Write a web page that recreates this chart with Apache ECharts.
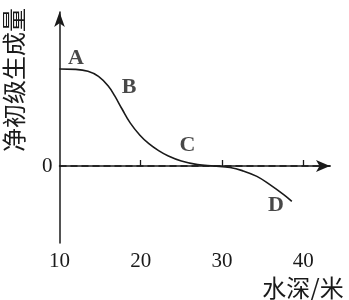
<!DOCTYPE html>
<html>
<head>
<meta charset="utf-8">
<script src="https://cdn.jsdelivr.net/npm/echarts@6/dist/echarts.min.js"></script>
<style>html,body{margin:0;padding:0;background:#fff;}#c{width:349px;height:300px;}</style>
</head>
<body>
<div id="c"></div>
<script>
// water depth (m) and net primary production (relative units)
var depth = [10, 12, 13.5, 14.8, 16.0, 16.8, 17.7, 18.7, 19.9, 21.0, 22.2, 23.4, 25.0, 27.0, 29.0, 31.0, 32.5, 34.3, 35.9, 37.6, 38.6];
var npp   = [1.26, 1.255, 1.23, 1.165, 1.04, 0.91, 0.74, 0.56, 0.40, 0.29, 0.20, 0.13, 0.065, 0.018, 0.0, -0.02, -0.06, -0.135, -0.243, -0.373, -0.46];
var xTicks = [10, 20, 30, 40];
var yTicks = [0];
var pointNames = ['A', 'B', 'C', 'D'];
var pointX = [12.03, 18.56, 25.76, 36.66];
var pointY = [1.40, 1.023, 0.264, -0.509];
var zeroLineX = [10, 43.5];

var chart = echarts.init(document.getElementById('c'));
var serif = '"Liberation Serif", "DejaVu Serif", serif';
var cjk = '"Noto Sans CJK SC", sans-serif';
var ink = '#1a1a1a';

chart.setOption({
  animation: false,
  grid: {left: 59.5, right: 19, top: 12, bottom: 57, containLabel: false},
  xAxis: {
    type: 'value', min: 10, max: 43.3, interval: 10,
    axisLine: {show: true, lineStyle: {color: ink, width: 1.5}, symbol: ['none', 'arrow'], symbolSize: [9, 14]},
    axisTick: {show: true, inside: true, length: 6, lineStyle: {color: ink, width: 1.3}, customValues: xTicks.slice(1)},
    axisLabel: {color: ink, fontFamily: serif, fontSize: 21, margin: 8, customValues: xTicks},
    splitLine: {show: false}
  },
  yAxis: {
    type: 'value', min: -1, max: 2, interval: 1,
    axisLine: {show: true, lineStyle: {color: ink, width: 1.5}, symbol: ['none', 'arrow'], symbolSize: [8, 15]},
    axisTick: {show: false},
    axisLabel: {color: ink, fontFamily: serif, fontSize: 21, margin: 7, customValues: yTicks},
    splitLine: {show: false}
  },
  graphic: [
    {type: 'text', x: 14, y: 80, rotation: Math.PI / 2,
     style: {text: '净初级生成量', font: '24px ' + cjk, fill: ink, textAlign: 'center', textVerticalAlign: 'middle'}},
    {type: 'text', x: 303, y: 288,
     style: {text: '水深/米', font: '24px ' + cjk, fill: ink, textAlign: 'center', textVerticalAlign: 'middle'}}
  ],
  series: [
    {
      type: 'line', data: zeroLineX.map(function (x) { return [x, 0]; }),
      symbol: 'none', lineStyle: {color: ink, width: 1.3, type: [7, 4]}, silent: true, clip: false
    },
    {
      type: 'line', data: depth.map(function (d, i) { return [d, npp[i]]; }),
      smooth: 0.4, symbol: 'none', lineStyle: {color: ink, width: 1.6}
    },
    {
      type: 'scatter', symbolSize: 1, itemStyle: {color: 'transparent'},
      data: pointNames.map(function (n, i) { return {name: n, value: [pointX[i], pointY[i]]}; }),
      label: {show: true, position: 'inside', formatter: '{b}', color: ink, fontFamily: serif, fontSize: 22, fontWeight: 'bold'}
    }
  ]
});
</script>
</body>
</html>
